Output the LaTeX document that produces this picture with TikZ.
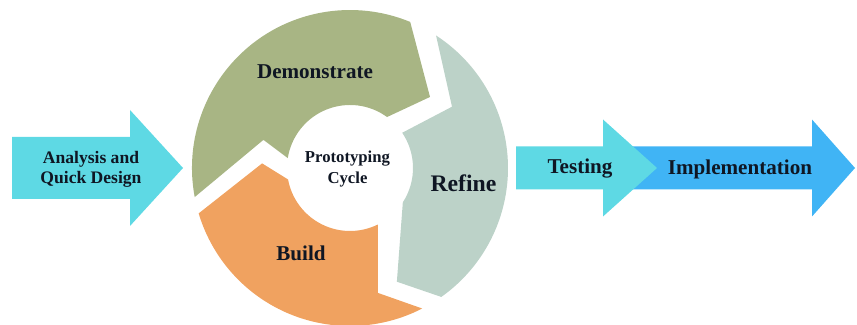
\documentclass[tikz,border=0pt]{standalone}
\usepackage{fontspec}
\setmainfont{Liberation Serif}
\usetikzlibrary{positioning}
\definecolor{olivegreen}{RGB}{168,181,132}
\definecolor{sagegrey}{RGB}{188,210,200}
\definecolor{peach}{RGB}{240,162,96}
\definecolor{aqua}{RGB}{94,217,228}
\definecolor{skyblue}{RGB}{64,180,245}
\definecolor{inkdark}{RGB}{15,22,35}

\begin{document}
\begin{tikzpicture}[
  lbl/.style = { font=\bfseries\fontsize{12}{14}\selectfont, text=inkdark, align=center },
  sml/.style = { font=\bfseries\fontsize{10}{11.5}\selectfont, text=inkdark, align=center },
  hub/.style = { font=\bfseries\fontsize{9.5}{12.5}\selectfont, text=inkdark, align=center }
]
\useasboundingbox (0,0) rectangle (17.14,6.5);

% flow arrows
\fill[aqua] (0.24,2.52) -- (2.60,2.52) -- (2.60,1.98) -- (3.66,3.14) -- (2.60,4.30) -- (2.60,3.76) -- (0.24,3.76) -- cycle;
\fill[skyblue] (12.40,2.71) -- (16.24,2.71) -- (16.24,2.17) -- (17.10,3.14) -- (16.24,4.11) -- (16.24,3.57) -- (12.40,3.57) -- cycle;
\fill[aqua] (10.32,2.71) -- (12.06,2.71) -- (12.06,2.17) -- (13.14,3.14) -- (12.06,4.11) -- (12.06,3.57) -- (10.32,3.57) -- cycle;

% ring of circular arrows
\begin{scope}[shift={(7.0,3.14)}]
  \fill[olivegreen] (190.6:3.16) arc[start angle=190.6, end angle=67.6, radius=3.16]
    -- (41.6:2.14) -- (54:1.26) arc[start angle=54, end angle=171, radius=1.26] -- (162:1.82) -- cycle;
  \fill[sagegrey] (57:3.16) arc[start angle=57, end angle=-54.7, radius=3.16]
    -- (-67.6:2.46) -- (-33:1.26) arc[start angle=-33, end angle=34, radius=1.26] -- (31:2.38) -- cycle;
  \fill[peach] (-62.8:3.16) arc[start angle=-62.8, end angle=-163.3, radius=3.16]
    -- (-183:1.76) -- (-169.5:1.26) arc[start angle=-169.5, end angle=-63.8, radius=1.26] -- (-77.4:2.56) -- cycle;
\end{scope}

\node[lbl] (demo)   at (6.30,5.06) {Demonstrate};
\node[lbl, font=\bfseries\fontsize{13.5}{15}\selectfont] (refine) at (9.27,2.84) {Refine};
\node[lbl] (build)  at (6.02,1.44) {Build};
\node[hub] (proto)  at (6.95,3.12) {Prototyping\\Cycle};

\node[sml] (analysis) at (1.82,3.12) {Analysis and\\Quick Design};
\node[lbl] (testing)  at (11.60,3.12) {Testing};
\node[lbl] (impl)     at (14.80,3.12) {Implementation};

\end{tikzpicture}
\end{document}
